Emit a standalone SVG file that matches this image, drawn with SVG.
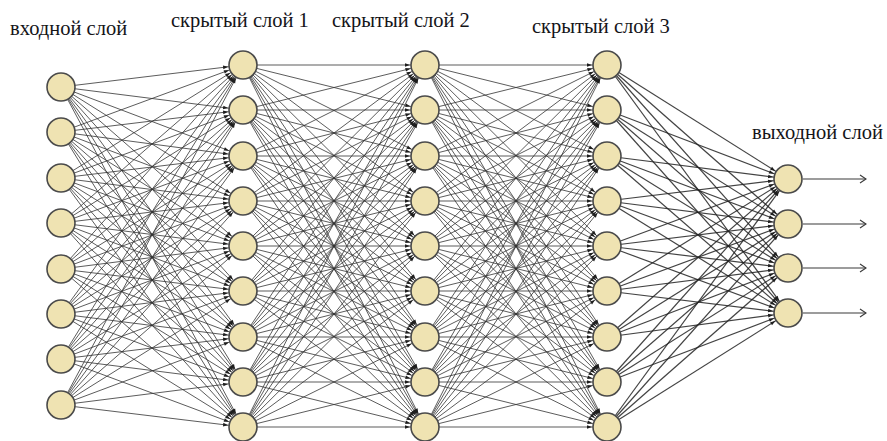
<svg xmlns="http://www.w3.org/2000/svg" width="887" height="441" viewBox="0 0 887 441">
<style>
.e{stroke:#333;stroke-opacity:0.8;stroke-width:1;fill:none;marker-end:url(#ah)}
.e4{stroke:#222;stroke-opacity:0.85;stroke-width:1.2;fill:none;marker-end:url(#ah)}
.n{fill:#efe3b2;stroke:#4a4a4a;stroke-width:1.6}
.t{font-size:20.5px;fill:#141418}
.o{stroke:#3a3a3a;stroke-width:1.1;fill:none;marker-end:url(#oa)}
</style>
<defs>
<marker id="ah" markerUnits="userSpaceOnUse" viewBox="0 -4 30 8" markerWidth="30" markerHeight="8" refX="30" refY="0" orient="auto"><path d="M10,-1.8L15,0L10,1.8z" fill="#1e1e1e"/></marker>
<marker id="oa" markerUnits="userSpaceOnUse" viewBox="0 -5 8 10" markerWidth="8" markerHeight="10" refX="7" refY="0" orient="auto"><path d="M1,-4L7,0L1,4" fill="none" stroke="#3a3a3a" stroke-width="1.1"/></marker>
</defs>
<g id="connectors">
<path class="e" d="M61 87L243 65"/><path class="e" d="M61 87L243 110"/><path class="e" d="M61 87L243 156"/><path class="e" d="M61 87L243 201"/><path class="e" d="M61 87L243 246"/><path class="e" d="M61 87L243 291"/><path class="e" d="M61 87L243 337"/><path class="e" d="M61 87L243 382"/><path class="e" d="M61 87L243 427"/>
<path class="e" d="M61 132L243 65"/><path class="e" d="M61 132L243 110"/><path class="e" d="M61 132L243 156"/><path class="e" d="M61 132L243 201"/><path class="e" d="M61 132L243 246"/><path class="e" d="M61 132L243 291"/><path class="e" d="M61 132L243 337"/><path class="e" d="M61 132L243 382"/><path class="e" d="M61 132L243 427"/>
<path class="e" d="M61 178L243 65"/><path class="e" d="M61 178L243 110"/><path class="e" d="M61 178L243 156"/><path class="e" d="M61 178L243 201"/><path class="e" d="M61 178L243 246"/><path class="e" d="M61 178L243 291"/><path class="e" d="M61 178L243 337"/><path class="e" d="M61 178L243 382"/><path class="e" d="M61 178L243 427"/>
<path class="e" d="M61 223L243 65"/><path class="e" d="M61 223L243 110"/><path class="e" d="M61 223L243 156"/><path class="e" d="M61 223L243 201"/><path class="e" d="M61 223L243 246"/><path class="e" d="M61 223L243 291"/><path class="e" d="M61 223L243 337"/><path class="e" d="M61 223L243 382"/><path class="e" d="M61 223L243 427"/>
<path class="e" d="M61 269L243 65"/><path class="e" d="M61 269L243 110"/><path class="e" d="M61 269L243 156"/><path class="e" d="M61 269L243 201"/><path class="e" d="M61 269L243 246"/><path class="e" d="M61 269L243 291"/><path class="e" d="M61 269L243 337"/><path class="e" d="M61 269L243 382"/><path class="e" d="M61 269L243 427"/>
<path class="e" d="M61 314L243 65"/><path class="e" d="M61 314L243 110"/><path class="e" d="M61 314L243 156"/><path class="e" d="M61 314L243 201"/><path class="e" d="M61 314L243 246"/><path class="e" d="M61 314L243 291"/><path class="e" d="M61 314L243 337"/><path class="e" d="M61 314L243 382"/><path class="e" d="M61 314L243 427"/>
<path class="e" d="M61 359L243 65"/><path class="e" d="M61 359L243 110"/><path class="e" d="M61 359L243 156"/><path class="e" d="M61 359L243 201"/><path class="e" d="M61 359L243 246"/><path class="e" d="M61 359L243 291"/><path class="e" d="M61 359L243 337"/><path class="e" d="M61 359L243 382"/><path class="e" d="M61 359L243 427"/>
<path class="e" d="M61 405L243 65"/><path class="e" d="M61 405L243 110"/><path class="e" d="M61 405L243 156"/><path class="e" d="M61 405L243 201"/><path class="e" d="M61 405L243 246"/><path class="e" d="M61 405L243 291"/><path class="e" d="M61 405L243 337"/><path class="e" d="M61 405L243 382"/><path class="e" d="M61 405L243 427"/>

<path class="e" d="M243 65L425 65"/><path class="e" d="M243 65L425 110"/><path class="e" d="M243 65L425 156"/><path class="e" d="M243 65L425 201"/><path class="e" d="M243 65L425 246"/><path class="e" d="M243 65L425 291"/><path class="e" d="M243 65L425 337"/><path class="e" d="M243 65L425 382"/><path class="e" d="M243 65L425 427"/>
<path class="e" d="M243 110L425 65"/><path class="e" d="M243 110L425 110"/><path class="e" d="M243 110L425 156"/><path class="e" d="M243 110L425 201"/><path class="e" d="M243 110L425 246"/><path class="e" d="M243 110L425 291"/><path class="e" d="M243 110L425 337"/><path class="e" d="M243 110L425 382"/><path class="e" d="M243 110L425 427"/>
<path class="e" d="M243 156L425 65"/><path class="e" d="M243 156L425 110"/><path class="e" d="M243 156L425 156"/><path class="e" d="M243 156L425 201"/><path class="e" d="M243 156L425 246"/><path class="e" d="M243 156L425 291"/><path class="e" d="M243 156L425 337"/><path class="e" d="M243 156L425 382"/><path class="e" d="M243 156L425 427"/>
<path class="e" d="M243 201L425 65"/><path class="e" d="M243 201L425 110"/><path class="e" d="M243 201L425 156"/><path class="e" d="M243 201L425 201"/><path class="e" d="M243 201L425 246"/><path class="e" d="M243 201L425 291"/><path class="e" d="M243 201L425 337"/><path class="e" d="M243 201L425 382"/><path class="e" d="M243 201L425 427"/>
<path class="e" d="M243 246L425 65"/><path class="e" d="M243 246L425 110"/><path class="e" d="M243 246L425 156"/><path class="e" d="M243 246L425 201"/><path class="e" d="M243 246L425 246"/><path class="e" d="M243 246L425 291"/><path class="e" d="M243 246L425 337"/><path class="e" d="M243 246L425 382"/><path class="e" d="M243 246L425 427"/>
<path class="e" d="M243 291L425 65"/><path class="e" d="M243 291L425 110"/><path class="e" d="M243 291L425 156"/><path class="e" d="M243 291L425 201"/><path class="e" d="M243 291L425 246"/><path class="e" d="M243 291L425 291"/><path class="e" d="M243 291L425 337"/><path class="e" d="M243 291L425 382"/><path class="e" d="M243 291L425 427"/>
<path class="e" d="M243 337L425 65"/><path class="e" d="M243 337L425 110"/><path class="e" d="M243 337L425 156"/><path class="e" d="M243 337L425 201"/><path class="e" d="M243 337L425 246"/><path class="e" d="M243 337L425 291"/><path class="e" d="M243 337L425 337"/><path class="e" d="M243 337L425 382"/><path class="e" d="M243 337L425 427"/>
<path class="e" d="M243 382L425 65"/><path class="e" d="M243 382L425 110"/><path class="e" d="M243 382L425 156"/><path class="e" d="M243 382L425 201"/><path class="e" d="M243 382L425 246"/><path class="e" d="M243 382L425 291"/><path class="e" d="M243 382L425 337"/><path class="e" d="M243 382L425 382"/><path class="e" d="M243 382L425 427"/>
<path class="e" d="M243 427L425 65"/><path class="e" d="M243 427L425 110"/><path class="e" d="M243 427L425 156"/><path class="e" d="M243 427L425 201"/><path class="e" d="M243 427L425 246"/><path class="e" d="M243 427L425 291"/><path class="e" d="M243 427L425 337"/><path class="e" d="M243 427L425 382"/><path class="e" d="M243 427L425 427"/>

<path class="e" d="M425 65L607 65"/><path class="e" d="M425 65L607 110"/><path class="e" d="M425 65L607 156"/><path class="e" d="M425 65L607 201"/><path class="e" d="M425 65L607 246"/><path class="e" d="M425 65L607 291"/><path class="e" d="M425 65L607 337"/><path class="e" d="M425 65L607 382"/><path class="e" d="M425 65L607 427"/>
<path class="e" d="M425 110L607 65"/><path class="e" d="M425 110L607 110"/><path class="e" d="M425 110L607 156"/><path class="e" d="M425 110L607 201"/><path class="e" d="M425 110L607 246"/><path class="e" d="M425 110L607 291"/><path class="e" d="M425 110L607 337"/><path class="e" d="M425 110L607 382"/><path class="e" d="M425 110L607 427"/>
<path class="e" d="M425 156L607 65"/><path class="e" d="M425 156L607 110"/><path class="e" d="M425 156L607 156"/><path class="e" d="M425 156L607 201"/><path class="e" d="M425 156L607 246"/><path class="e" d="M425 156L607 291"/><path class="e" d="M425 156L607 337"/><path class="e" d="M425 156L607 382"/><path class="e" d="M425 156L607 427"/>
<path class="e" d="M425 201L607 65"/><path class="e" d="M425 201L607 110"/><path class="e" d="M425 201L607 156"/><path class="e" d="M425 201L607 201"/><path class="e" d="M425 201L607 246"/><path class="e" d="M425 201L607 291"/><path class="e" d="M425 201L607 337"/><path class="e" d="M425 201L607 382"/><path class="e" d="M425 201L607 427"/>
<path class="e" d="M425 246L607 65"/><path class="e" d="M425 246L607 110"/><path class="e" d="M425 246L607 156"/><path class="e" d="M425 246L607 201"/><path class="e" d="M425 246L607 246"/><path class="e" d="M425 246L607 291"/><path class="e" d="M425 246L607 337"/><path class="e" d="M425 246L607 382"/><path class="e" d="M425 246L607 427"/>
<path class="e" d="M425 291L607 65"/><path class="e" d="M425 291L607 110"/><path class="e" d="M425 291L607 156"/><path class="e" d="M425 291L607 201"/><path class="e" d="M425 291L607 246"/><path class="e" d="M425 291L607 291"/><path class="e" d="M425 291L607 337"/><path class="e" d="M425 291L607 382"/><path class="e" d="M425 291L607 427"/>
<path class="e" d="M425 337L607 65"/><path class="e" d="M425 337L607 110"/><path class="e" d="M425 337L607 156"/><path class="e" d="M425 337L607 201"/><path class="e" d="M425 337L607 246"/><path class="e" d="M425 337L607 291"/><path class="e" d="M425 337L607 337"/><path class="e" d="M425 337L607 382"/><path class="e" d="M425 337L607 427"/>
<path class="e" d="M425 382L607 65"/><path class="e" d="M425 382L607 110"/><path class="e" d="M425 382L607 156"/><path class="e" d="M425 382L607 201"/><path class="e" d="M425 382L607 246"/><path class="e" d="M425 382L607 291"/><path class="e" d="M425 382L607 337"/><path class="e" d="M425 382L607 382"/><path class="e" d="M425 382L607 427"/>
<path class="e" d="M425 427L607 65"/><path class="e" d="M425 427L607 110"/><path class="e" d="M425 427L607 156"/><path class="e" d="M425 427L607 201"/><path class="e" d="M425 427L607 246"/><path class="e" d="M425 427L607 291"/><path class="e" d="M425 427L607 337"/><path class="e" d="M425 427L607 382"/><path class="e" d="M425 427L607 427"/>

<path class="e4" d="M607 65L788 179"/><path class="e4" d="M607 65L788 224"/><path class="e4" d="M607 65L788 268"/><path class="e4" d="M607 65L788 313"/>
<path class="e4" d="M607 110L788 179"/><path class="e4" d="M607 110L788 224"/><path class="e4" d="M607 110L788 268"/><path class="e4" d="M607 110L788 313"/>
<path class="e4" d="M607 156L788 179"/><path class="e4" d="M607 156L788 224"/><path class="e4" d="M607 156L788 268"/><path class="e4" d="M607 156L788 313"/>
<path class="e4" d="M607 201L788 179"/><path class="e4" d="M607 201L788 224"/><path class="e4" d="M607 201L788 268"/><path class="e4" d="M607 201L788 313"/>
<path class="e4" d="M607 246L788 179"/><path class="e4" d="M607 246L788 224"/><path class="e4" d="M607 246L788 268"/><path class="e4" d="M607 246L788 313"/>
<path class="e4" d="M607 291L788 179"/><path class="e4" d="M607 291L788 224"/><path class="e4" d="M607 291L788 268"/><path class="e4" d="M607 291L788 313"/>
<path class="e4" d="M607 337L788 179"/><path class="e4" d="M607 337L788 224"/><path class="e4" d="M607 337L788 268"/><path class="e4" d="M607 337L788 313"/>
<path class="e4" d="M607 382L788 179"/><path class="e4" d="M607 382L788 224"/><path class="e4" d="M607 382L788 268"/><path class="e4" d="M607 382L788 313"/>
<path class="e4" d="M607 427L788 179"/><path class="e4" d="M607 427L788 224"/><path class="e4" d="M607 427L788 268"/><path class="e4" d="M607 427L788 313"/>

<path class="o" d="M803 179L866 179"/><path class="o" d="M803 224L866 224"/><path class="o" d="M803 268L866 268"/><path class="o" d="M803 313L866 313"/>
</g>
<g id="input-layer">
<circle class="n" cx="61" cy="87" r="14"/><circle class="n" cx="61" cy="132" r="14"/><circle class="n" cx="61" cy="178" r="14"/><circle class="n" cx="61" cy="223" r="14"/><circle class="n" cx="61" cy="269" r="14"/><circle class="n" cx="61" cy="314" r="14"/><circle class="n" cx="61" cy="359" r="14"/><circle class="n" cx="61" cy="405" r="14"/>
<text class="t" font-family="'Liberation Serif', 'DejaVu Serif', serif" x="10" y="35">входной слой</text>
</g>
<g id="hidden-layer-1">
<circle class="n" cx="243" cy="65" r="14"/><circle class="n" cx="243" cy="110" r="14"/><circle class="n" cx="243" cy="156" r="14"/><circle class="n" cx="243" cy="201" r="14"/><circle class="n" cx="243" cy="246" r="14"/><circle class="n" cx="243" cy="291" r="14"/><circle class="n" cx="243" cy="337" r="14"/><circle class="n" cx="243" cy="382" r="14"/><circle class="n" cx="243" cy="427" r="14"/>
<text class="t" font-family="'Liberation Serif', 'DejaVu Serif', serif" x="171" y="27">скрытый слой 1</text>
</g>
<g id="hidden-layer-2">
<circle class="n" cx="425" cy="65" r="14"/><circle class="n" cx="425" cy="110" r="14"/><circle class="n" cx="425" cy="156" r="14"/><circle class="n" cx="425" cy="201" r="14"/><circle class="n" cx="425" cy="246" r="14"/><circle class="n" cx="425" cy="291" r="14"/><circle class="n" cx="425" cy="337" r="14"/><circle class="n" cx="425" cy="382" r="14"/><circle class="n" cx="425" cy="427" r="14"/>
<text class="t" font-family="'Liberation Serif', 'DejaVu Serif', serif" x="332" y="27">скрытый слой 2</text>
</g>
<g id="hidden-layer-3">
<circle class="n" cx="607" cy="65" r="14"/><circle class="n" cx="607" cy="110" r="14"/><circle class="n" cx="607" cy="156" r="14"/><circle class="n" cx="607" cy="201" r="14"/><circle class="n" cx="607" cy="246" r="14"/><circle class="n" cx="607" cy="291" r="14"/><circle class="n" cx="607" cy="337" r="14"/><circle class="n" cx="607" cy="382" r="14"/><circle class="n" cx="607" cy="427" r="14"/>
<text class="t" font-family="'Liberation Serif', 'DejaVu Serif', serif" x="532" y="33">скрытый слой 3</text>
</g>
<g id="output-layer">
<circle class="n" cx="788" cy="179" r="14"/><circle class="n" cx="788" cy="224" r="14"/><circle class="n" cx="788" cy="268" r="14"/><circle class="n" cx="788" cy="313" r="14"/>
<text class="t" font-family="'Liberation Serif', 'DejaVu Serif', serif" x="752" y="139">выходной слой</text>
</g>
</svg>
